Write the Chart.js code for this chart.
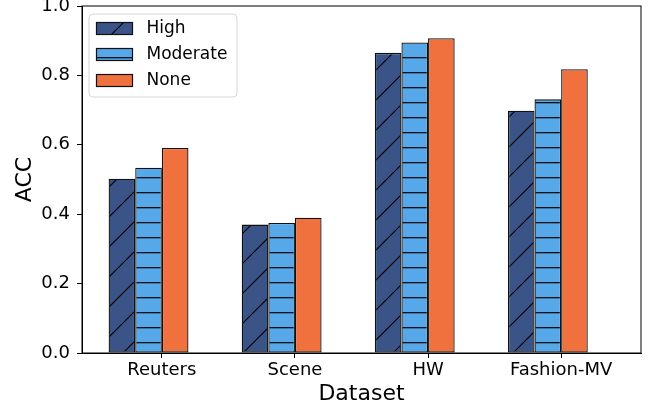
<!DOCTYPE html>
<html>
<head>
<meta charset="utf-8">
<script src="https://cdn.jsdelivr.net/npm/chart.js@4.4.1/dist/chart.umd.min.js"></script>
<style>
  html, body { margin: 0; padding: 0; background: #ffffff; }
  #wrap { width: 664px; height: 411px; }
</style>
</head>
<body>
<div id="wrap"><canvas id="c" width="664" height="411"></canvas></div>
<script>
// ---- data ----
const categories = ['Reuters', 'Scene', 'HW', 'Fashion-MV'];
const seriesNames = ['High', 'Moderate', 'None'];
const highValues = [0.502, 0.370, 0.865, 0.698];
const moderateValues = [0.534, 0.375, 0.895, 0.731];
const noneValues = [0.591, 0.390, 0.907, 0.818];
const yTicks = [0.0, 0.2, 0.4, 0.6, 0.8, 1.0];

// ---- styles ----
const FONT = "'DejaVu Sans', 'Liberation Sans', sans-serif";
const navy = '#3a5488';
const lightBlue = '#56a8e8';
const orange = '#f0703e';
const groupShift = -0.1;

function diagPattern(bg) {
  const t = document.createElement('canvas');
  t.width = 30; t.height = 30;
  const g = t.getContext('2d');
  g.fillStyle = bg; g.fillRect(0, 0, 30, 30);
  g.strokeStyle = '#000'; g.lineWidth = 1.2;
  g.beginPath();
  g.moveTo(-6, 32); g.lineTo(32, -6);   // x+y = 26
  g.moveTo(24, 32); g.lineTo(32, 24);   // x+y = 56
  g.moveTo(-6, 2); g.lineTo(2, -6);     // x+y = -4
  g.stroke();
  return document.getElementById('c').getContext('2d').createPattern(t, 'repeat');
}
function horizPattern(bg) {
  const t = document.createElement('canvas');
  t.width = 15; t.height = 15;
  const g = t.getContext('2d');
  g.fillStyle = bg; g.fillRect(0, 0, 15, 15);
  g.strokeStyle = '#000'; g.lineWidth = 1.2;
  g.beginPath();
  g.moveTo(0, 12.7); g.lineTo(15, 12.7);
  g.stroke();
  return document.getElementById('c').getContext('2d').createPattern(t, 'repeat');
}

const fills = [diagPattern(navy), horizPattern(lightBlue), orange];
const seriesValues = [highValues, moderateValues, noneValues];

const datasets = seriesNames.map((name, d) => ({
  label: name,
  data: seriesValues[d].map((v, i) => ({ x: i + groupShift, y: v })),
  backgroundColor: fills[d],
  borderColor: '#111',
  borderWidth: 1.3,
  borderSkipped: false,
  categoryPercentage: 0.6,
  barPercentage: 1.0
}));

const framePlugin = {
  id: 'frame',
  afterDatasetsDraw(chart) {
    const { ctx, chartArea: a } = chart;
    ctx.save();
    ctx.strokeStyle = '#000';
    ctx.lineWidth = 1;
    ctx.strokeRect(a.left, a.top, a.right - a.left, a.bottom - a.top);
    ctx.restore();
  },
  afterDraw(chart) {
    const ctx = chart.ctx;
    ctx.save();
    // legend box
    const bx = 89, by = 14, bw = 148, bh = 83, r = 4;
    ctx.beginPath();
    ctx.moveTo(bx + r, by);
    ctx.arcTo(bx + bw, by, bx + bw, by + bh, r);
    ctx.arcTo(bx + bw, by + bh, bx, by + bh, r);
    ctx.arcTo(bx, by + bh, bx, by, r);
    ctx.arcTo(bx, by, bx + bw, by, r);
    ctx.closePath();
    ctx.fillStyle = 'rgba(255,255,255,0.8)';
    ctx.fill();
    ctx.strokeStyle = '#d6d6d6';
    ctx.lineWidth = 1;
    ctx.stroke();
    chart.data.datasets.forEach((ds, i) => {
      const cy = 28.5 + i * 26;
      ctx.fillStyle = ds.backgroundColor;
      ctx.fillRect(96.5, cy - 6, 36, 12);
      ctx.strokeStyle = '#111';
      ctx.lineWidth = 1.2;
      ctx.strokeRect(96.5, cy - 6, 36, 12);
      ctx.fillStyle = '#000';
      ctx.font = '17px ' + FONT;
      ctx.textAlign = 'left';
      ctx.textBaseline = 'middle';
      ctx.fillText(ds.label, 146.5, cy);
    });
    ctx.restore();
  }
};

new Chart(document.getElementById('c'), {
  type: 'bar',
  data: { datasets },
  plugins: [framePlugin],
  options: {
    responsive: false,
    animation: false,
    devicePixelRatio: 1,
    layout: { padding: { left: 0, right: 23, top: 6, bottom: 0 } },
    plugins: { legend: { display: false }, tooltip: { enabled: false } },
    scales: {
      x: {
        type: 'linear',
        offset: false,
        min: -0.6,
        max: 3.6,
        afterBuildTicks(scale) { scale.ticks = categories.map((c, i) => ({ value: i })); },
        afterFit(scale) { scale.height = 58; scale.paddingLeft = 0; scale.paddingRight = 0; },
        ticks: {
          callback: (v) => categories[v],
          color: '#000',
          font: { family: FONT, size: 18 },
          padding: 2,
          maxRotation: 0,
          autoSkip: false
        },
        grid: { offset: false, drawOnChartArea: false, drawTicks: true, tickLength: 5, tickColor: '#000', tickWidth: 1 },
        border: { display: true, color: '#000', width: 1 },
        title: {
          display: true,
          text: 'Dataset',
          color: '#000',
          font: { family: FONT, size: 22 },
          padding: { top: 0, bottom: 4 }
        }
      },
      y: {
        min: 0,
        max: 1,
        afterBuildTicks(scale) { scale.ticks = yTicks.map(v => ({ value: v })); },
        afterFit(scale) { scale.width = 82; scale.paddingTop = 0; scale.paddingBottom = 0; },
        ticks: {
          callback: (v) => Number(v).toFixed(1),
          color: '#000',
          font: { family: FONT, size: 18 },
          padding: 7
        },
        grid: { drawOnChartArea: false, drawTicks: true, tickLength: 5, tickColor: '#000', tickWidth: 1 },
        border: { display: true, color: '#000', width: 1 },
        title: {
          display: true,
          text: 'ACC',
          color: '#000',
          font: { family: FONT, size: 22 },
          padding: { top: 12, bottom: 0 }
        }
      }
    }
  }
});
</script>
</body>
</html>
